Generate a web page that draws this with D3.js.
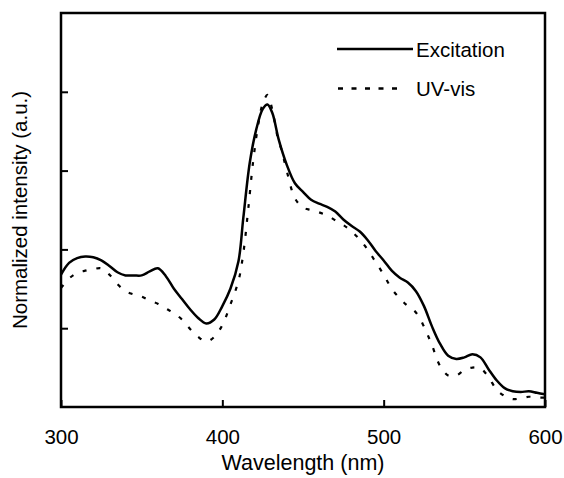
<!DOCTYPE html>
<html>
<head>
<meta charset="utf-8">
<script src="https://cdn.jsdelivr.net/npm/d3@7/dist/d3.min.js"></script>
<style>
  html, body { margin: 0; padding: 0; background: #fff; }
  svg { display: block; }
  text { font-family: "Liberation Sans", Arial, sans-serif; fill: #000; }
</style>
</head>
<body>
<svg id="chart" width="564" height="478"></svg>
<script>
// ---- Data ----
const wavelengthsExc = [300,305,310,315,320,325,330,335,340,345,350,355,360,365,370,375,380,385,390,395,400,405,410,413,417,421,425,428,431,435,440,445,450,455,460,465,470,475,480,485,490,495,500,505,510,515,520,525,530,535,540,545,550,555,560,565,570,575,580,585,590,595,600];
const excitation =     [1.68,1.83,1.89,1.91,1.90,1.86,1.79,1.71,1.67,1.67,1.67,1.72,1.76,1.66,1.50,1.37,1.24,1.13,1.06,1.11,1.28,1.50,1.85,2.40,3.10,3.52,3.78,3.84,3.73,3.39,3.07,2.84,2.73,2.63,2.58,2.54,2.48,2.38,2.30,2.23,2.12,1.98,1.86,1.73,1.64,1.58,1.47,1.28,1.02,0.80,0.65,0.61,0.63,0.67,0.63,0.48,0.34,0.24,0.20,0.19,0.20,0.18,0.16];

const wavelengthsUV = [300,305,310,315,320,325,330,335,340,345,350,355,360,365,370,375,380,385,390,395,400,405,410,413,416,419,422,425,428,431,434,437,440,445,450,455,460,465,470,475,480,485,490,495,500,505,510,515,520,525,530,535,540,545,550,555,560,565,570,575,580,585,590,595,600];
const uvvis =         [1.51,1.63,1.70,1.73,1.75,1.76,1.68,1.56,1.47,1.43,1.40,1.35,1.31,1.25,1.19,1.11,0.99,0.89,0.83,0.89,1.04,1.30,1.60,1.95,2.50,3.10,3.55,3.85,3.96,3.77,3.45,3.24,2.99,2.65,2.53,2.50,2.47,2.43,2.37,2.31,2.23,2.13,2.00,1.84,1.68,1.50,1.38,1.28,1.20,1.02,0.78,0.52,0.40,0.40,0.47,0.50,0.49,0.38,0.22,0.14,0.10,0.11,0.13,0.12,0.12];

const xTicks = [300, 400, 500, 600];
const yTicks = [1, 2, 3, 4];
const seriesNames = ["Excitation", "UV-vis"];

// ---- Layout ----
const svg = d3.select("#chart");
const L = 61, T = 13, R = 545, B = 407;

const x = d3.scaleLinear().domain([300, 600]).range([L, R]);
const y = d3.scaleLinear().domain([0, 5]).range([B, T]);

svg.append("defs").append("clipPath").attr("id", "clip")
  .append("rect").attr("x", L).attr("y", T).attr("width", R - L).attr("height", B - T);

// x axis ticks (inward) and labels
const xAxis = svg.append("g").attr("transform", `translate(0,${B})`)
  .call(d3.axisBottom(x).tickValues(xTicks).tickSize(-7).tickPadding(22.5).tickFormat(d3.format("d")));
xAxis.select(".domain").remove();
xAxis.selectAll(".tick line").attr("stroke", "#000").attr("stroke-width", 2);
xAxis.selectAll(".tick text").style("font-size", "20.5px").style("font-family", "'Liberation Sans', Arial, sans-serif").attr("fill", "#000");

// y axis ticks (inward), no labels
const yAxis = svg.append("g").attr("transform", `translate(${L},0)`)
  .call(d3.axisLeft(y).tickValues(yTicks).tickSize(-7).tickFormat(""));
yAxis.select(".domain").remove();
yAxis.selectAll(".tick line").attr("stroke", "#000").attr("stroke-width", 2);

// curves
const line = d3.line().curve(d3.curveCatmullRom.alpha(0.5));

const excPts = wavelengthsExc.map((w, i) => [x(w), y(excitation[i])]);
const uvPts = wavelengthsUV.map((w, i) => [x(w), y(uvvis[i])]);

const plot = svg.append("g").attr("clip-path", "url(#clip)");
plot.append("path").attr("d", line(uvPts))
  .attr("fill", "none").attr("stroke", "#000").attr("stroke-width", 2.2)
  .attr("stroke-dasharray", "4,10");
plot.append("path").attr("d", line(excPts))
  .attr("fill", "none").attr("stroke", "#000").attr("stroke-width", 2.5);

// frame
svg.append("rect").attr("x", L).attr("y", T).attr("width", R - L).attr("height", B - T)
  .attr("fill", "none").attr("stroke", "#000").attr("stroke-width", 2.5);

// legend
const lg = svg.append("g");
lg.append("line").attr("x1", 337).attr("x2", 413).attr("y1", 49).attr("y2", 49)
  .attr("stroke", "#000").attr("stroke-width", 2.5);
lg.append("text").attr("x", 416).attr("y", 56.5).style("font-size", "20.5px").text(seriesNames[0]);
lg.append("line").attr("x1", 338).attr("x2", 403).attr("y1", 88.5).attr("y2", 88.5)
  .attr("stroke", "#000").attr("stroke-width", 2.5).attr("stroke-dasharray", "5,8.5");
lg.append("text").attr("x", 416).attr("y", 95.5).style("font-size", "20.5px").text(seriesNames[1]);

// axis titles
svg.append("text").attr("x", (L + R) / 2).attr("y", 469.5).attr("text-anchor", "middle")
  .style("font-size", "21.5px").text("Wavelength (nm)");
svg.append("text").attr("transform", `translate(27,${(T + B) / 2}) rotate(-90)`)
  .attr("text-anchor", "middle").style("font-size", "20.5px").text("Normalized intensity (a.u.)");
</script>
</body>
</html>
